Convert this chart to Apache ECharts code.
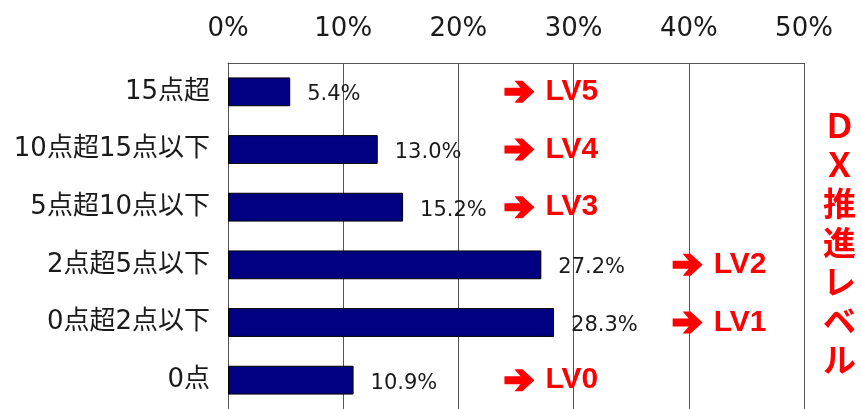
<!DOCTYPE html>
<html>
<head>
<meta charset="utf-8">
<script src="https://cdn.jsdelivr.net/npm/echarts@6/dist/echarts.min.js"></script>
<style>
  html, body { margin: 0; padding: 0; background: #fff; }
  #main { width: 862px; height: 409px; }
</style>
</head>
<body>
<div id="main"></div>
<script>
// カテゴリ（上から順）
var categories = ['15点超', '10点超15点以下', '5点超10点以下', '2点超5点以下', '0点超2点以下', '0点'];
// 割合（%）
var shares = [5.4, 13.0, 15.2, 27.2, 28.3, 10.9];
// DX推進レベル注記と、その矢印の横位置（%）
var levels = ['LV5', 'LV4', 'LV3', 'LV2', 'LV1', 'LV0'];
var levelX = [25.3, 25.3, 25.3, 39.9, 39.9, 25.3];
var tickLabels = ['0%', '10%', '20%', '30%', '40%', '50%'];

var arrowPath = 'path://M0,7 L16,7 L10,0 L18,0 L30,11 L18,22 L10,22 L16,15 L0,15 Z';

var levelData = [];
for (var i = 0; i < levels.length; i++) {
  levelData.push({ value: [levelX[i], categories[i]], name: levels[i] });
}

var chart = echarts.init(document.getElementById('main'));
var option = {
  animation: false,
  backgroundColor: '#fff',
  grid: { left: 228, right: 58, top: 63, bottom: -2, containLabel: false },
  xAxis: {
    type: 'value',
    position: 'top',
    min: 0,
    max: 50,
    interval: 10,
    axisLine: { show: true, lineStyle: { color: '#555', width: 1 } },
    axisTick: { show: false },
    splitLine: { show: true, lineStyle: { color: '#555', width: 1 } },
    axisLabel: {
      margin: 21,
      color: '#1a1a1a',
      fontSize: 26,
      fontFamily: 'DejaVu Sans',
      formatter: function (v) { return tickLabels[v / 10]; }
    }
  },
  yAxis: {
    type: 'category',
    inverse: true,
    data: categories,
    axisLine: { show: true, lineStyle: { color: '#555', width: 1 } },
    axisTick: { show: false },
    axisLabel: {
      margin: 18,
      color: '#1a1a1a',
      fontSize: 26,
      fontFamily: 'DejaVu Sans, Noto Sans CJK JP'
    }
  },
  series: [
    {
      type: 'bar',
      data: shares,
      barWidth: '50%',
      itemStyle: { color: '#000080', borderColor: '#000', borderWidth: 1 },
      label: {
        show: true,
        position: 'right',
        distance: 17,
        offset: [0, 3],
        color: '#1a1a1a',
        fontSize: 21,
        fontFamily: 'DejaVu Sans',
        formatter: function (p) { return p.value.toFixed(1) + '%'; }
      }
    },
    {
      type: 'scatter',
      data: levelData,
      symbol: arrowPath,
      symbolSize: [30, 22],
      itemStyle: { color: '#ff0000', opacity: 1 },
      silent: true,
      label: {
        show: true,
        position: 'right',
        distance: 11,
        color: '#ff0000',
        fontSize: 30,
        fontWeight: 'bold',
        fontFamily: 'Liberation Sans, Arial',
        formatter: function (p) { return p.name; }
      }
    }
  ],
  graphic: [
    {
      type: 'text',
      left: 823,
      top: 106,
      style: {
        text: 'Ｄ\nＸ\n推\n進\nレ\nベ\nル',
        fill: '#ff0000',
        fontSize: 33,
        fontWeight: 'bold',
        lineHeight: 39,
        fontFamily: 'Noto Sans CJK JP',
        textAlign: 'center'
      }
    }
  ]
};
chart.setOption(option);
</script>
</body>
</html>
